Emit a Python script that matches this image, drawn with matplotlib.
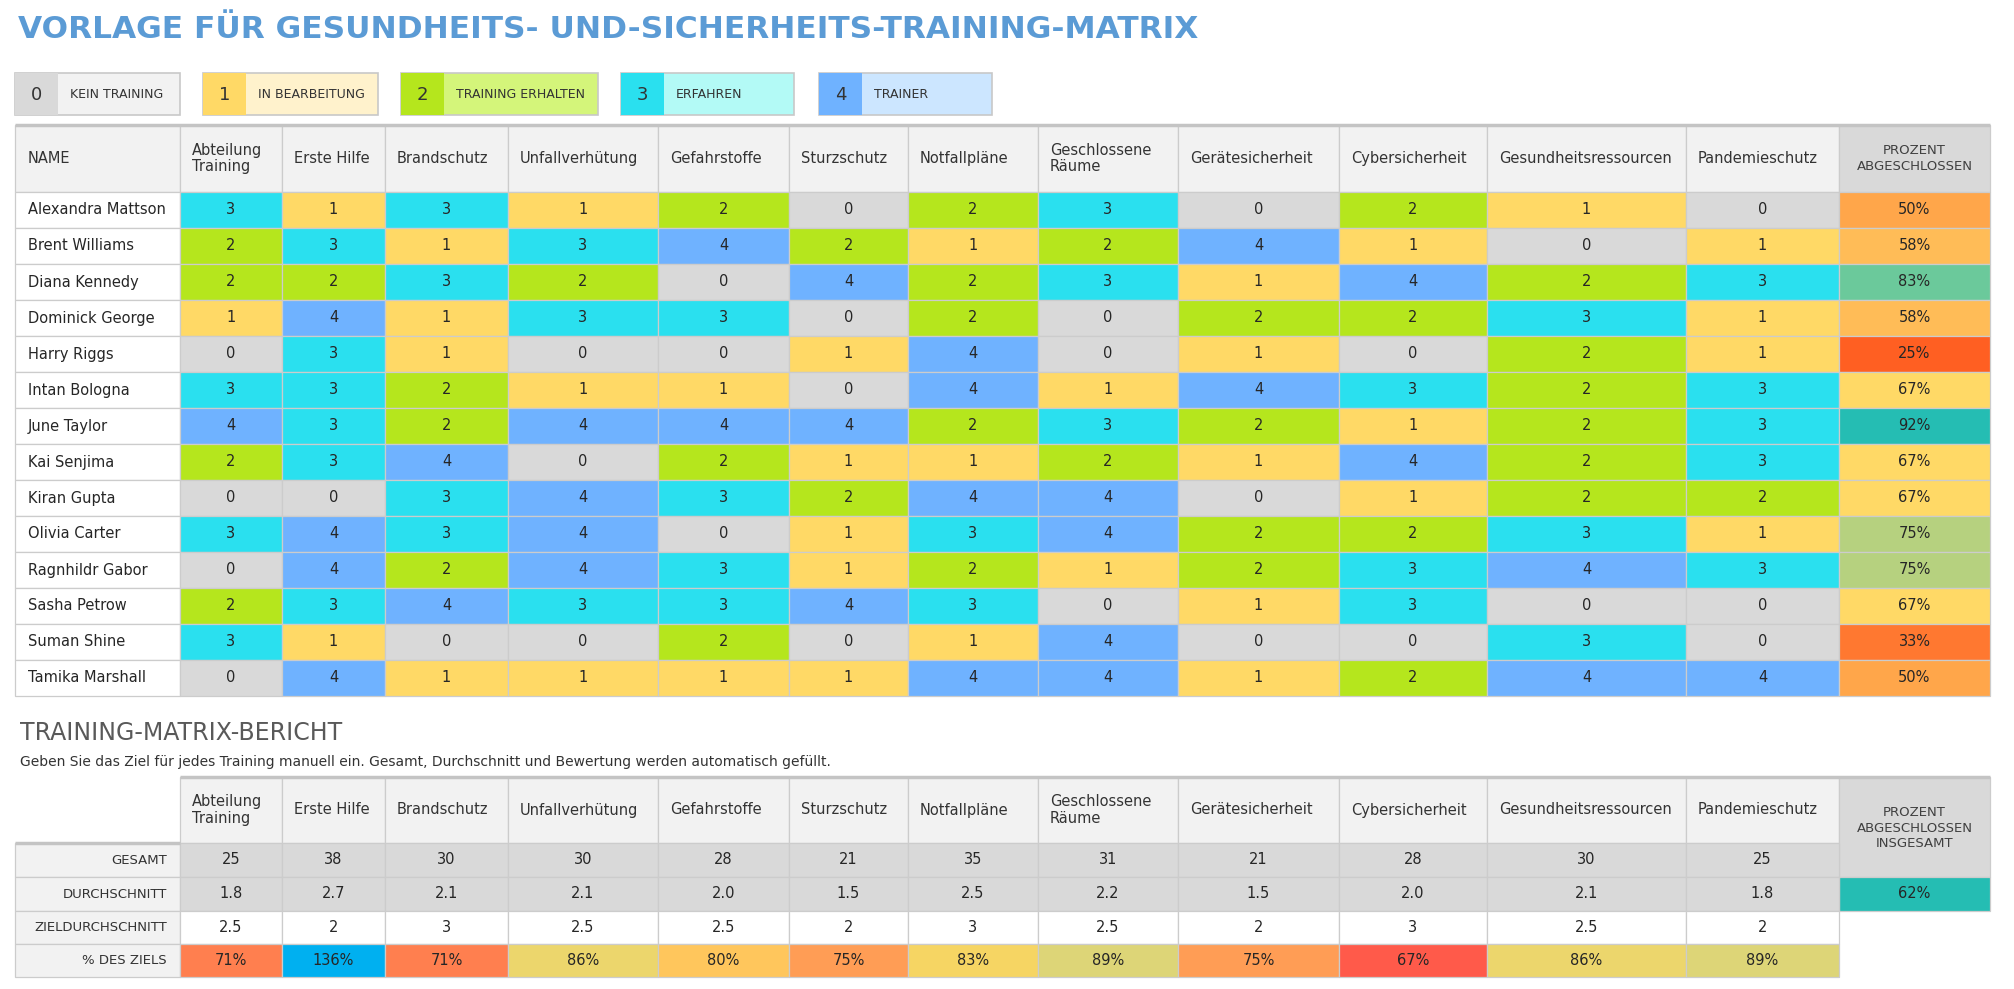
import matplotlib
matplotlib.use('Agg')
import matplotlib.pyplot as plt
from matplotlib.patches import Rectangle

plt.rcParams['font.family'] = ['DejaVu Sans']

# ---- data ----
title = 'VORLAGE FÜR GESUNDHEITS- UND-SICHERHEITS-TRAINING-MATRIX'
legend_levels = [0, 1, 2, 3, 4]
legend_labels = ['KEIN TRAINING', 'IN BEARBEITUNG', 'TRAINING ERHALTEN', 'ERFAHREN', 'TRAINER']

trainings = ['Abteilung\nTraining', 'Erste Hilfe', 'Brandschutz', 'Unfallverhütung', 'Gefahrstoffe',
             'Sturzschutz', 'Notfallpläne', 'Geschlossene\nRäume', 'Gerätesicherheit',
             'Cybersicherheit', 'Gesundheitsressourcen', 'Pandemieschutz']
names = ['Alexandra Mattson', 'Brent Williams', 'Diana Kennedy', 'Dominick George', 'Harry Riggs',
         'Intan Bologna', 'June Taylor', 'Kai Senjima', 'Kiran Gupta', 'Olivia Carter',
         'Ragnhildr Gabor', 'Sasha Petrow', 'Suman Shine', 'Tamika Marshall']
scores = [
    [3, 1, 3, 1, 2, 0, 2, 3, 0, 2, 1, 0],
    [2, 3, 1, 3, 4, 2, 1, 2, 4, 1, 0, 1],
    [2, 2, 3, 2, 0, 4, 2, 3, 1, 4, 2, 3],
    [1, 4, 1, 3, 3, 0, 2, 0, 2, 2, 3, 1],
    [0, 3, 1, 0, 0, 1, 4, 0, 1, 0, 2, 1],
    [3, 3, 2, 1, 1, 0, 4, 1, 4, 3, 2, 3],
    [4, 3, 2, 4, 4, 4, 2, 3, 2, 1, 2, 3],
    [2, 3, 4, 0, 2, 1, 1, 2, 1, 4, 2, 3],
    [0, 0, 3, 4, 3, 2, 4, 4, 0, 1, 2, 2],
    [3, 4, 3, 4, 0, 1, 3, 4, 2, 2, 3, 1],
    [0, 4, 2, 4, 3, 1, 2, 1, 2, 3, 4, 3],
    [2, 3, 4, 3, 3, 4, 3, 0, 1, 3, 0, 0],
    [3, 1, 0, 0, 2, 0, 1, 4, 0, 0, 3, 0],
    [0, 4, 1, 1, 1, 1, 4, 4, 1, 2, 4, 4],
]
pct_done = [50, 58, 83, 58, 25, 67, 92, 67, 67, 75, 75, 67, 33, 50]

report_title = 'TRAINING-MATRIX-BERICHT'
report_note = 'Geben Sie das Ziel für jedes Training manuell ein. Gesamt, Durchschnitt und Bewertung werden automatisch gefüllt.'
report_rows = ['GESAMT', 'DURCHSCHNITT', 'ZIELDURCHSCHNITT', '% DES ZIELS']
gesamt = [25, 38, 30, 30, 28, 21, 35, 31, 21, 28, 30, 25]
durchschnitt = [1.8, 2.7, 2.1, 2.1, 2.0, 1.5, 2.5, 2.2, 1.5, 2.0, 2.1, 1.8]
ziel = [2.5, 2, 3, 2.5, 2.5, 2, 3, 2.5, 2, 3, 2.5, 2]
pct_ziel = [71, 136, 71, 86, 80, 75, 83, 89, 75, 67, 86, 89]
pct_total = 62

# ---- styles ----
level_col = {0: '#D9D9D9', 1: '#FFD966', 2: '#B5E61D', 3: '#2AE0EF', 4: '#6FB2FF'}
level_light = {0: '#F2F2F2', 1: '#FFF2CC', 2: '#D4F57A', 3: '#B3FAF6', 4: '#CCE6FF'}
done_col = {25: '#FF5F22', 33: '#FF7830', 50: '#FFA64A', 58: '#FFBC57', 67: '#FFD966',
            75: '#B6D17F', 83: '#6BC99B', 92: '#25BDB3'}
ziel_col = {67: '#FF5A4A', 71: '#FF7F4F', 75: '#FF9D55', 80: '#FFC65C', 83: '#F6D563',
            86: '#ECD66C', 89: '#DDD577', 136: '#00B0F0'}
total_col = '#25BDB3'
grid = '#CCCCCC'
txt = '#262626'
hdr_bg = '#F2F2F2'

W, H = 2015, 989
fig = plt.figure(figsize=(W / 100, H / 100), dpi=100)
ax = fig.add_axes([0, 0, 1, 1])
ax.set_xlim(0, W)
ax.set_ylim(H, 0)
ax.axis('off')


def cell(x0, x1, y0, y1, fc, ec=grid, lw=0.9):
    ax.add_patch(Rectangle((x0, y0), x1 - x0, y1 - y0, facecolor=fc, edgecolor=ec, linewidth=lw))


edges = [15, 180, 282, 385, 508, 658, 789, 908, 1038, 1178, 1339, 1487, 1686, 1839, 1990]

# title
ax.text(18, 29, title, fontsize=22.5, fontweight='bold', color='#5B9BD5', va='center', ha='left')

# legend
leg_x = [(15, 180), (203, 378), (401, 598), (621, 794), (819, 992)]
for (x0, x1), lv, lab in zip(leg_x, legend_levels, legend_labels):
    cell(x0, x1, 73, 115, level_light[lv], ec='#C8C8C8', lw=1.2)
    cell(x0, x0 + 43, 73, 115, level_col[lv], ec='none', lw=0)
    ax.text(x0 + 21.5, 95, str(lv), fontsize=13, color='#333333', ha='center', va='center')
    ax.text(x0 + 55, 95, lab, fontsize=9, color='#333333', ha='left', va='center')

# main table header
top, hb, rh = 125, 192, 36.0
cell(edges[0], edges[1], top, hb, hdr_bg)
ax.text(edges[0] + 13, (top + hb) / 2, 'NAME', fontsize=10.5, color='#333333', va='center')
for j, t in enumerate(trainings):
    cell(edges[j + 1], edges[j + 2], top, hb, hdr_bg)
    ax.text(edges[j + 1] + 12, (top + hb) / 2, t, fontsize=10.5, color='#333333', va='center',
            linespacing=1.15)
cell(edges[13], edges[14], top, hb, '#D9D9D9')
ax.text((edges[13] + edges[14]) / 2, (top + hb) / 2, 'PROZENT\nABGESCHLOSSEN', fontsize=9.5,
        color='#404040', ha='center', va='center', linespacing=1.25)
ax.plot([edges[0], edges[14]], [top, top], color='#C4C4C4', lw=2.5, solid_capstyle='butt')

for i, (nm, row, p) in enumerate(zip(names, scores, pct_done)):
    y0 = hb + i * rh
    y1 = y0 + rh
    cell(edges[0], edges[1], y0, y1, 'white')
    ax.text(edges[0] + 13, (y0 + y1) / 2, nm, fontsize=10.5, color=txt, va='center')
    for j, v in enumerate(row):
        cell(edges[j + 1], edges[j + 2], y0, y1, level_col[v])
        ax.text((edges[j + 1] + edges[j + 2]) / 2, (y0 + y1) / 2, str(v), fontsize=10.5,
                color=txt, ha='center', va='center')
    cell(edges[13], edges[14], y0, y1, done_col[p])
    ax.text((edges[13] + edges[14]) / 2, (y0 + y1) / 2, f'{p}%', fontsize=10.5,
            color=txt, ha='center', va='center')

# report
ax.text(20, 733, report_title, fontsize=17, color='#595959', va='center')
ax.text(20, 762, report_note, fontsize=10, color='#333333', va='center')

rt, rhb = 777, 843
rrh = [843, 877, 911, 944, 977]
for j, t in enumerate(trainings):
    cell(edges[j + 1], edges[j + 2], rt, rhb, hdr_bg)
    ax.text(edges[j + 1] + 12, (rt + rhb) / 2, t, fontsize=10.5, color='#333333', va='center',
            linespacing=1.15)
cell(edges[13], edges[14], rt, rrh[1], '#D9D9D9')
ax.text((edges[13] + edges[14]) / 2, 828, 'PROZENT\nABGESCHLOSSEN\nINSGESAMT', fontsize=9.5,
        color='#404040', ha='center', va='center', linespacing=1.25)
cell(edges[13], edges[14], rrh[1], rrh[2], total_col)
ax.text((edges[13] + edges[14]) / 2, (rrh[1] + rrh[2]) / 2, f'{pct_total}%', fontsize=10.5,
        color=txt, ha='center', va='center')
ax.plot([edges[1], edges[14]], [rt, rt], color='#C4C4C4', lw=2.5, solid_capstyle='butt')

row_vals = [
    [str(v) for v in gesamt],
    [f'{v:.1f}' for v in durchschnitt],
    [f'{v:g}' for v in ziel],
    [f'{v}%' for v in pct_ziel],
]
for r, (lab, vals) in enumerate(zip(report_rows, row_vals)):
    y0, y1 = rrh[r], rrh[r + 1]
    cell(edges[0], edges[1], y0, y1, hdr_bg)
    ax.text(edges[1] - 13, (y0 + y1) / 2, lab, fontsize=9.5, color='#333333', ha='right', va='center')
    for j, s in enumerate(vals):
        if r < 2:
            fc = '#D9D9D9'
        elif r == 2:
            fc = 'white'
        else:
            fc = ziel_col[pct_ziel[j]]
        cell(edges[j + 1], edges[j + 2], y0, y1, fc)
        ax.text((edges[j + 1] + edges[j + 2]) / 2, (y0 + y1) / 2, s, fontsize=10.5,
                color=txt, ha='center', va='center')
ax.plot([edges[0], edges[1]], [rrh[0], rrh[0]], color='#C4C4C4', lw=2.5, solid_capstyle='butt')

fig.savefig('out.png', dpi=100)
